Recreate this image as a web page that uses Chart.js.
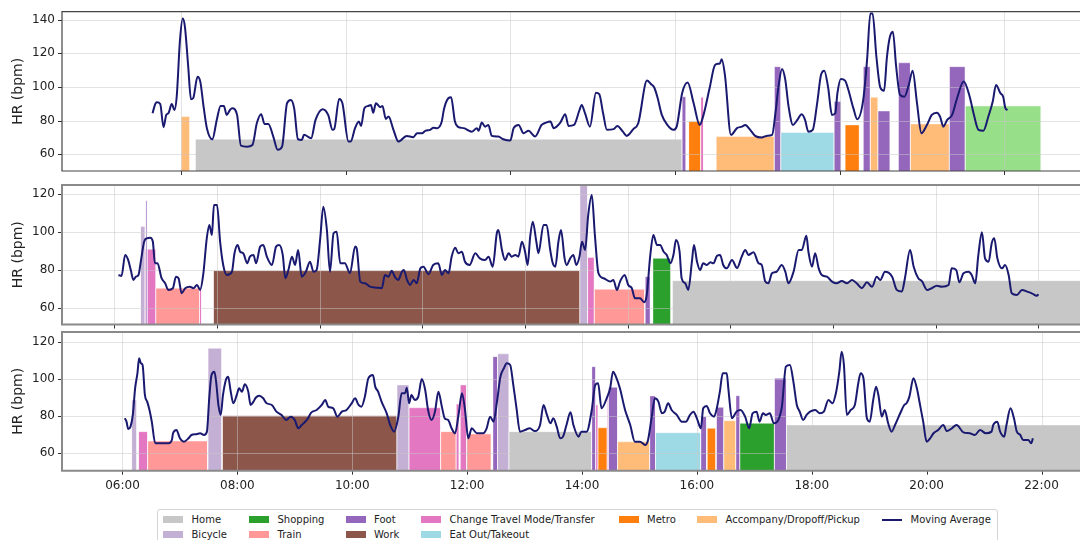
<!DOCTYPE html>
<html><head><meta charset="utf-8">
<script src="https://cdn.jsdelivr.net/npm/chart.js@4.4.1/dist/chart.umd.min.js"></script>
<style>
html,body{margin:0;padding:0;background:#fff;width:1080px;height:540px;overflow:hidden;position:relative;font-family:'DejaVu Sans',sans-serif;}
canvas{position:absolute;left:0;}
#legend{position:absolute;left:157px;top:509px;width:841px;height:42px;border:1px solid #d4d4d4;border-radius:3px;background:#fff;box-sizing:border-box;}
.item{position:absolute;font-size:10px;color:#222;white-space:nowrap;line-height:12px;}
.sw{position:absolute;width:20px;height:7px;}
.ln{position:absolute;width:20px;height:2px;background:#191970;}
</style></head><body>
<canvas id="c1" width="1080" height="180" style="top:0px"></canvas>
<canvas id="c2" width="1080" height="150" style="top:180px"></canvas>
<canvas id="c3" width="1080" height="170" style="top:330px"></canvas>
<div id="legend"></div>
<script>
// ---------- DATA ----------
// Subplot 1 moving average (hours, bpm)
const s1Time = [5.48,5.53,5.56,5.62,5.68,5.73,5.77,5.83,5.88,5.92,5.98,6.03,6.07,6.13,6.18,6.22,6.30,6.35,6.41,6.47,6.57,6.65,6.72,6.78,6.83,6.89,6.93,7.02,7.09,7.20,7.30,7.38,7.46,7.52,7.59,7.68,7.76,7.84,7.93,8.00,8.06,8.13,8.20,8.24,8.37,8.45,8.58,8.68,8.76,8.79,8.88,8.94,9.05,9.09,9.17,9.24,9.28,9.34,9.41,9.46,9.50,9.55,9.63,9.67,9.73,9.78,9.87,9.96,10.11,10.23,10.30,10.39,10.45,10.54,10.60,10.67,10.75,10.79,10.87,10.92,10.99,11.04,11.15,11.30,11.39,11.42,11.48,11.54,11.60,11.66,11.78,11.87,12.00,12.06,12.15,12.24,12.33,12.45,12.57,12.65,12.73,12.79,12.91,13.00,13.06,13.16,13.26,13.30,13.36,13.45,13.56,13.62,13.69,13.76,13.88,13.95,14.05,14.12,14.24,14.33,14.49,14.56,14.62,14.68,14.76,14.86,14.97,15.03,15.13,15.23,15.34,15.45,15.52,15.63,15.73,15.82,15.85,15.91,16.02,16.13,16.22,16.28,16.37,16.46,16.58,16.67,16.77,16.83,16.89,16.95,17.01,17.07,17.15,17.22,17.31,17.37,17.43,17.51,17.59,17.66,17.72,17.79,17.86,17.92,17.96,18.02,18.10,18.16,18.25,18.32,18.43,18.50,18.56,18.60,18.67,18.74,18.81,18.86,18.91,18.97,19.03,19.10,19.18,19.26,19.33,19.41,19.49,19.59,19.68,19.77,19.83,19.89,19.96,20.05,20.14,20.26,20.37,20.44,20.53,20.62,20.71,20.79,20.85,20.93,20.98,21.02,21.06];
const s1HR = [84.4,89.9,90.9,89.9,76.1,83.4,84.4,89.9,86.3,94.2,128,140.8,135.8,112.1,92.7,93.3,106.1,103.2,88.3,75.5,68.9,80.4,88.7,88.7,83.4,86.3,87.4,83.4,65.1,64.5,65.5,78.4,83.8,78.0,78.0,70.5,62.6,64.5,90.3,92.3,87.4,68.9,68.5,71.5,69.5,80.4,86.8,83.4,74.5,74.9,92.9,90.3,67.5,67.5,75.5,79.4,76.8,87.4,88.7,89.3,84.7,90.3,88.0,88.7,81.0,82.4,74.5,67.5,70.9,70.1,72.5,72.5,73.9,74.5,75.8,75.5,79.4,86.8,93.3,93.9,79.4,76.4,75.5,73.4,75.5,74.0,78.8,76.4,77.4,70.9,70.5,68.9,68.1,75.5,77.4,72.5,73.9,70.5,77.4,78.8,79.4,75.5,78.8,83.8,76.8,77.4,86.3,89.3,84.4,76.4,96.6,95.8,84.4,74.5,74.9,76.8,73.4,70.9,74.9,78.4,103.8,101.8,99.8,93.9,83.4,77.4,74.5,76.4,96.3,102.6,90.3,77.4,83.4,99.2,113.1,114.1,116.5,107.1,71.5,75.5,76.4,77.4,74.5,70.9,69.9,70.9,71.5,84.4,101.2,110.7,104.2,88.3,77.4,80.0,83.8,80.4,73.4,74.5,90.3,107.1,109.7,99.8,83.4,84.4,96.3,104.8,103.8,98.2,87.4,80.8,92.3,116.1,143.8,143.8,118.0,99.8,97.8,117.1,129.0,132.9,112.1,95.3,94.2,101.2,109.7,90.3,72.5,77.4,83.4,84.7,82.4,76.4,80.4,83.4,93.3,103.2,94.2,84.4,74.5,74.0,82.4,91.3,101.2,96.3,94.2,87.4,86.3];
// Subplot 1 activity bars: [category, start hour, end hour, bar top bpm]
const s1Bars = [
  ['Accompany/Dropoff/Pickup',6.00,6.16,82.4],
  ['Home',6.26,15.13,68.9],
  ['Foot',15.13,15.20,94.2],
  ['Metro',15.25,15.47,79.4],
  ['Change Travel Mode/Transfer',15.47,15.52,93.9],
  ['Accompany/Dropoff/Pickup',15.75,16.81,70.5],
  ['Foot',16.81,16.93,112.1],
  ['Eat Out/Takeout',16.93,17.90,72.9],
  ['Foot',17.90,18.03,91.3],
  ['Metro',18.10,18.36,77.4],
  ['Foot',18.43,18.56,112.1],
  ['Accompany/Dropoff/Pickup',18.56,18.70,93.9],
  ['Foot',18.70,18.92,85.7],
  ['Foot',19.07,19.29,114.4],
  ['Accompany/Dropoff/Pickup',19.29,20.00,78.0],
  ['Foot',20.00,20.29,112.1],
  ['Other',20.29,21.67,88.7]
];

// Subplot 2
const s2Time = [6.08,6.14,6.21,6.27,6.32,6.37,6.42,6.47,6.51,6.58,6.63,6.70,6.75,6.79,6.84,6.92,6.99,7.05,7.14,7.20,7.25,7.31,7.38,7.47,7.54,7.61,7.67,7.73,7.80,7.85,7.90,7.94,8.00,8.06,8.12,8.19,8.29,8.34,8.40,8.45,8.51,8.59,8.64,8.71,8.76,8.84,8.90,8.97,9.07,9.15,9.21,9.28,9.33,9.39,9.46,9.52,9.58,9.65,9.73,9.81,9.88,9.94,10.01,10.07,10.14,10.20,10.27,10.33,10.40,10.49,10.59,10.69,10.72,10.79,10.88,10.98,11.11,11.21,11.27,11.34,11.40,11.47,11.53,11.60,11.64,11.70,11.76,11.83,11.89,11.96,12.02,12.12,12.21,12.31,12.38,12.44,12.51,12.57,12.64,12.70,12.77,12.83,12.92,13.03,13.12,13.22,13.29,13.37,13.45,13.48,13.55,13.61,13.68,13.74,13.81,13.87,13.94,14.00,14.05,14.10,14.15,14.22,14.26,14.36,14.42,14.49,14.54,14.59,14.65,14.70,14.77,14.81,14.88,14.94,15.00,15.06,15.11,15.17,15.23,15.30,15.36,15.43,15.53,15.66,15.72,15.79,15.85,15.94,16.01,16.08,16.14,16.24,16.32,16.37,16.44,16.50,16.57,16.63,16.70,16.76,16.83,16.89,16.94,17.01,17.05,17.12,17.18,17.25,17.29,17.35,17.41,17.47,17.54,17.61,17.67,17.74,17.80,17.86,17.93,18.03,18.13,18.22,18.29,18.35,18.45,18.55,18.61,18.68,18.74,18.81,18.90,19.00,19.07,19.13,19.23,19.33,19.39,19.48,19.52,19.59,19.65,19.72,19.78,19.88,19.98,20.07,20.17,20.27,20.37,20.46,20.56,20.66,20.76,20.85,20.92,21.01,21.15,21.24,21.34,21.40,21.50,21.57,21.66,21.73,21.83,21.92,22.02,22.12,22.25,22.31,22.40,22.46,22.54,22.64,22.70,22.77,22.83,22.90,22.96,23.03,23.09,23.14,23.20,23.29,23.35,23.42,23.48,23.58,23.68,23.78,23.87,23.97,24.00];
const s2HR = [77.3,76.8,87.9,85.2,79.9,74.7,76.4,77.3,83.5,94.9,96.7,97.0,94.9,83.5,83.5,75.6,72.9,69.4,70.3,76.4,75.6,67.6,70.3,71.1,70.3,72.0,69.4,77.3,96.7,103.8,98.5,114.3,114.3,94.9,82.6,77.3,79.0,88.8,93.2,89.6,88.8,83.5,87.0,87.9,83.5,92.3,93.2,87.0,82.6,92.3,93.2,87.9,75.6,79.9,87.0,82.6,90.5,76.4,79.0,84.3,79.0,79.9,96.7,113.4,101.1,79.0,99.4,100.2,83.5,83.5,78.2,92.3,91.4,73.8,72.9,71.1,70.6,70.3,77.3,76.4,79.5,76.0,74.7,79.0,79.9,74.7,72.0,74.7,72.9,80.8,81.7,77.7,82.6,83.5,77.3,79.9,78.2,87.0,91.7,88.8,89.6,84.3,82.6,88.8,86.1,85.2,87.0,81.7,99.4,101.1,90.5,85.2,88.8,87.0,87.9,87.0,94.9,89.6,82.6,97.6,105.5,94.9,88.8,103.8,103.8,90.5,83.5,81.7,94.9,101.1,86.1,82.6,86.1,87.9,82.6,87.0,94.9,90.5,109.0,119.6,98.5,78.2,75.6,73.8,74.7,69.4,73.8,77.3,72.0,70.3,65.0,65.0,62.9,66.7,87.9,98.5,93.2,93.2,89.6,87.9,83.5,87.9,95.8,89.6,75.6,72.9,69.4,84.3,93.2,84.3,79.9,83.5,82.6,84.0,83.5,87.5,87.9,82.6,80.8,85.2,81.0,87.0,90.5,87.9,89.3,83.5,82.6,73.8,72.9,78.2,79.0,82.6,79.0,72.9,79.0,90.5,90.5,98.1,89.6,81.7,88.8,80.8,77.3,76.4,73.8,72.9,74.1,72.9,74.7,72.9,70.3,73.4,71.1,76.4,74.7,79.0,76.4,69.4,68.5,75.6,90.5,81.7,75.6,74.1,69.4,70.3,71.6,71.1,72.0,80.8,79.9,73.4,78.2,79.0,77.3,72.9,87.9,99.9,86.1,84.3,94.1,96.7,86.1,80.8,82.6,77.3,67.6,66.7,69.4,68.5,67.6,66.3,67.1];
const s2Bars = [
  ['Bicycle',6.51,6.60,102.9],
  ['Change Travel Mode/Transfer',6.60,6.81,90.9],
  ['Foot',6.61,6.64,116.6],
  ['Train',6.81,7.66,70.3],
  ['Change Travel Mode/Transfer',7.66,7.70,70.5],
  ['Work',7.93,15.07,79.6],
  ['Bicycle',15.07,15.22,127],
  ['Change Travel Mode/Transfer',15.22,15.35,86.5],
  ['Train',15.35,16.33,69.7],
  ['Foot',16.34,16.44,76.4],
  ['Shopping',16.49,16.84,86.1],
  ['Home',16.87,25.5,74.3]
];

// Subplot 3
const s3Time = [6.04,6.07,6.10,6.14,6.18,6.22,6.26,6.29,6.32,6.35,6.39,6.43,6.47,6.51,6.57,6.62,6.71,6.80,6.86,6.88,6.94,7.00,7.07,7.15,7.20,7.29,7.35,7.42,7.47,7.51,7.55,7.60,7.63,7.67,7.71,7.75,7.80,7.84,7.88,7.93,7.99,8.03,8.08,8.13,8.19,8.23,8.28,8.32,8.38,8.45,8.51,8.60,8.68,8.77,8.85,8.93,9.00,9.06,9.12,9.21,9.29,9.38,9.47,9.53,9.58,9.67,9.74,9.82,9.90,9.99,10.05,10.11,10.16,10.22,10.28,10.36,10.40,10.45,10.51,10.60,10.66,10.73,10.80,10.86,10.92,10.95,10.99,11.03,11.09,11.15,11.21,11.27,11.32,11.38,11.44,11.50,11.56,11.61,11.67,11.73,11.79,11.85,11.91,11.96,12.02,12.08,12.17,12.28,12.34,12.40,12.46,12.52,12.58,12.64,12.69,12.75,12.80,12.86,12.92,13.01,13.09,13.18,13.27,13.33,13.39,13.45,13.50,13.56,13.62,13.67,13.73,13.80,13.85,13.94,13.99,14.08,14.17,14.23,14.28,14.34,14.43,14.49,14.54,14.59,14.66,14.75,14.84,14.92,15.01,15.10,15.15,15.21,15.27,15.33,15.39,15.44,15.50,15.56,15.65,15.74,15.81,15.88,15.94,16.00,16.07,16.11,16.17,16.23,16.30,16.34,16.40,16.45,16.52,16.55,16.61,16.69,16.76,16.84,16.91,16.97,17.04,17.09,17.15,17.20,17.27,17.34,17.40,17.48,17.55,17.62,17.68,17.74,17.79,17.85,17.91,17.97,18.06,18.14,18.21,18.29,18.36,18.42,18.48,18.52,18.56,18.61,18.68,18.75,18.81,18.85,18.90,18.96,19.01,19.07,19.12,19.16,19.22,19.27,19.33,19.39,19.45,19.54,19.61,19.65,19.70,19.77,19.83,19.88,19.94,20.00,20.06,20.12,20.20,20.29,20.35,20.44,20.52,20.64,20.75,20.84,20.93,21.03,21.13,21.16,21.23,21.28,21.35,21.39,21.46,21.52,21.57,21.63,21.68,21.77,21.82,21.85];
const s3HR = [78.6,76.8,72.8,74.1,80.4,94.8,102.9,111.0,108.3,107.4,91.2,87.6,83.1,76.8,65.1,65.1,65.1,65.1,66.9,70.5,72.3,67.8,66.0,67.8,69.6,70.0,70.5,69.6,71.4,89.4,102.0,103.8,98.4,85.8,80.4,91.2,99.3,101.1,93.9,86.7,91.2,94.8,93.0,97.0,93.0,85.8,87.6,89.7,90.8,89.4,86.7,85.8,82.2,80.4,77.7,79.5,77.7,73.2,75.0,77.7,81.8,83.1,85.8,88.5,84.9,84.0,79.5,82.2,83.1,86.7,89.4,85.8,84.9,90.3,100.2,102.0,95.7,93.0,87.6,81.3,75.0,71.4,79.0,92.1,92.1,95.1,86.7,91.2,88.5,90.3,99.8,93.9,83.1,77.7,82.2,93.0,84.9,78.6,77.7,73.2,70.5,80.4,92.1,84.0,67.8,73.2,70.5,70.5,73.2,79.5,76.8,87.6,101.1,105.6,108.3,107.4,97.5,84.0,71.4,72.3,73.2,71.7,75.0,85.8,80.4,75.9,78.6,74.1,67.8,68.7,75.0,81.8,75.0,68.7,71.4,71.4,83.1,96.6,97.5,84.0,89.4,94.8,103.8,101.1,94.8,83.1,75.0,66.0,66.0,64.2,66.9,78.6,89.4,87.6,81.3,82.2,86.7,83.1,80.4,76.8,76.8,80.4,82.2,78.6,73.2,84.0,85.3,81.3,79.5,83.1,93.0,102.9,102.9,93.9,78.6,82.2,83.1,79.5,73.2,81.3,82.2,76.8,81.3,80.4,81.3,75.9,76.8,84.9,106.5,107.4,98.4,85.8,82.2,77.7,80.4,82.2,83.1,81.3,82.2,88.5,86.7,92.1,103.8,114.6,107.4,80.4,83.1,85.8,97.5,102.9,100.2,78.6,76.8,88.5,95.7,91.2,79.5,83.1,75.9,71.4,75.0,81.3,85.8,86.7,90.3,100.2,94.8,86.7,76.8,66.0,67.8,70.5,72.3,75.0,71.7,73.2,75.0,71.0,70.5,69.6,72.3,70.5,71.4,75.0,76.8,71.4,68.7,75.0,84.0,78.6,71.4,69.6,66.9,66.9,65.1,67.8];
const s3Bars = [
  ['Bicycle',6.16,6.25,88.5],
  ['Change Travel Mode/Transfer',6.28,6.44,71.4],
  ['Train',6.44,7.48,66.3],
  ['Bicycle',7.49,7.73,116.4],
  ['Work',7.74,10.78,80.0],
  ['Bicycle',10.78,10.99,96.6],
  ['Change Travel Mode/Transfer',10.99,11.54,84.3],
  ['Train',11.54,11.81,71.4],
  ['Change Travel Mode/Transfer',11.81,11.86,86.3],
  ['Change Travel Mode/Transfer',11.88,11.99,96.6],
  ['Train',11.99,12.42,70.1],
  ['Foot',12.45,12.53,111.9],
  ['Bicycle',12.53,12.73,113.4],
  ['Home',12.73,14.17,71.4],
  ['Foot',14.17,14.24,106.5],
  ['Change Travel Mode/Transfer',14.24,14.28,85.8],
  ['Metro',14.28,14.44,73.5],
  ['Change Travel Mode/Transfer',14.44,14.46,91.2],
  ['Foot',14.46,14.62,95.3],
  ['Accompany/Dropoff/Pickup',14.62,15.18,65.9],
  ['Foot',15.18,15.28,90.7],
  ['Eat Out/Takeout',15.28,16.07,70.8],
  ['Foot',16.07,16.17,79.5],
  ['Metro',16.18,16.33,73.2],
  ['Foot',16.34,16.47,84.5],
  ['Accompany/Dropoff/Pickup',16.47,16.68,77.3],
  ['Foot',16.68,16.75,90.8],
  ['Shopping',16.75,17.35,75.9],
  ['Foot',17.35,17.56,100.2],
  ['Home',17.56,24.5,75.0]
];

// Ticks
const s1XTicks = [6,9,12,15,18,21];
const s2XTicks = [6,8,10,12,14,16,18,20,22,24];
const s3XTicks = [6,8,10,12,14,16,18,20,22];
const s1YTicks = [60,80,100,120,140];
const s23YTicks = [60,80,100,120];

// Legend entries, grouped by legend column
const legendColumns = [
  ['Home','Bicycle'],
  ['Shopping','Train'],
  ['Foot','Work'],
  ['Change Travel Mode/Transfer','Eat Out/Takeout'],
  ['Metro'],
  ['Accompany/Dropoff/Pickup'],
  ['Moving Average']
];

// ---------- STYLE ----------
const catColors = {
  'Home':'#c7c7c7','Bicycle':'#c5b0d5','Shopping':'#2ca02c','Train':'#ff9896','Foot':'#9467bd',
  'Work':'#8c564b','Change Travel Mode/Transfer':'#e377c2','Eat Out/Takeout':'#9edae5',
  'Metro':'#ff7f0e','Accompany/Dropoff/Pickup':'#ffbb78','Other':'#98df8a'
};
const MA_COLOR = '#191970';
const FONT = "'DejaVu Sans', sans-serif";

function pad2(v){ v = Math.round(v) % 24; return (v<10?'0':'') + v + ':00'; }

function framePlugin(cfg){
  return {
    id: 'frame_' + cfg.id,
    beforeDatasetDraw(chart, args){
      if (!chart.data.datasets[args.index].isMA) return;
      const {ctx, chartArea:a, scales:{x, y}} = chart;
      ctx.save();
      ctx.beginPath(); ctx.rect(a.left, a.top, a.right-a.left, a.bottom-a.top); ctx.clip();
      ctx.strokeStyle = 'rgba(200,200,200,0.5)';
      ctx.lineWidth = 1;
      ctx.beginPath();
      cfg.xTicks.forEach(v => { const p = Math.round(x.getPixelForValue(v)) + 0.5; ctx.moveTo(p, a.top); ctx.lineTo(p, a.bottom); });
      cfg.yTicks.forEach(v => { const p = Math.round(y.getPixelForValue(v)) + 0.5; ctx.moveTo(a.left, p); ctx.lineTo(a.right, p); });
      ctx.stroke();
      ctx.restore();
    },
    afterDraw(chart){
      const {ctx, chartArea:a, scales:{x, y}} = chart;
      ctx.save();
      ctx.strokeStyle = '#333'; ctx.lineWidth = 1;
      ctx.beginPath();
      cfg.xTicks.forEach(v => { const p = Math.round(x.getPixelForValue(v)) + 0.5; if (p < a.right) { ctx.moveTo(p, a.bottom); ctx.lineTo(p, a.bottom + 4); } });
      cfg.yTicks.forEach(v => { const p = Math.round(y.getPixelForValue(v)) + 0.5; ctx.moveTo(a.left, p); ctx.lineTo(a.left - 4, p); });
      ctx.stroke();
      ctx.strokeStyle = cfg.spine; ctx.lineWidth = cfg.spineW;
      ctx.beginPath();
      ctx.moveTo(a.right + 2, a.top); ctx.lineTo(a.left, a.top); ctx.lineTo(a.left, a.bottom); ctx.lineTo(a.right + 2, a.bottom);
      ctx.stroke();
      ctx.restore();
    }
  };
}

function makeChart(cfg){
  const datasets = [{
    type:'line', isMA:true,
    data: cfg.time.map((t,i) => ({x:t, y:cfg.hr[i]})),
    borderColor: MA_COLOR, borderWidth: 2, pointRadius: 0, fill: false,
    cubicInterpolationMode: 'monotone', order: 0
  }];
  cfg.bars.forEach((b, i) => {
    datasets.push({
      type:'line',
      data: [{x:b[1], y:cfg.ymin}, {x:b[1], y:b[3]}, {x:b[2], y:b[3]}, {x:b[2], y:cfg.ymin}],
      backgroundColor: catColors[b[0]], borderColor: 'rgba(255,255,255,0.55)', borderWidth: 0.8,
      pointRadius: 0, fill: 'start', tension: 0, order: cfg.bars.length - i + 1
    });
  });
  return new Chart(document.getElementById(cfg.id), {
    type: 'line',
    data: { datasets },
    options: {
      responsive: false, animation: false, devicePixelRatio: 1,
      layout: { padding: cfg.padding },
      plugins: { legend: {display:false}, tooltip: {enabled:false} },
      scales: {
        x: {
          type: 'linear', min: cfg.xmin, max: cfg.xmax, display: cfg.showX,
          afterBuildTicks: s => { s.ticks = cfg.xTicks.map(v => ({value:v})); },
          afterFit: s => { if (cfg.showX) { s.height = 25; } else { s.height = 0; } s.paddingLeft = 0; s.paddingRight = 0; },
          ticks: { callback: v => pad2(v), font:{size:12, family:FONT}, color:'#222', padding:3, maxRotation:0, autoSkip:false },
          grid: { color:'rgba(0,0,0,0)', drawTicks:true, tickLength:5, tickColor:'rgba(0,0,0,0)' },
          border: { display:false }
        },
        y: {
          type: 'linear', min: cfg.ymin, max: cfg.ymax,
          afterBuildTicks: s => { s.ticks = cfg.yTicks.map(v => ({value:v})); },
          afterFit: s => { s.width = 62; s.paddingTop = 0; s.paddingBottom = 0; },
          ticks: { font:{size:12, family:FONT}, color:'#222', padding:3 },
          grid: { color:'rgba(0,0,0,0)', drawTicks:true, tickLength:4, tickColor:'rgba(0,0,0,0)' },
          border: { display:false },
          title: { display:true, text:'HR (bpm)', font:{size:14, family:FONT}, color:'#222', padding:{top:10, bottom:0} }
        }
      }
    },
    plugins: [framePlugin(cfg)]
  });
}

makeChart({id:'c1', time:s1Time, hr:s1HR, bars:s1Bars, xTicks:s1XTicks, yTicks:s1YTicks,
  xmin:3.83, xmax:22.38, ymin:50, ymax:144.8, showX:false,
  padding:{top:11.7, bottom:9, left:0, right:0}, spine:'#444', spineW:1.2});
makeChart({id:'c2', time:s2Time, hr:s2HR, bars:s2Bars, xTicks:s2XTicks, yTicks:s23YTicks,
  xmin:4.98, xmax:24.81, ymin:51.1, ymax:124.9, showX:false,
  padding:{top:5, bottom:5.5, left:0, right:0}, spine:'#8a8a8a', spineW:2});
makeChart({id:'c3', time:s3Time, hr:s3HR, bars:s3Bars, xTicks:s3XTicks, yTicks:s23YTicks,
  xmin:4.947, xmax:22.67, ymin:50.3, ymax:125.2, showX:true,
  padding:{top:2, bottom:4.3, left:0, right:0}, spine:'#8a8a8a', spineW:2});

// ---------- LEGEND (HTML) ----------
(function(){
  const lg = document.getElementById('legend');
  const colX = [5, 91, 187.5, 263, 460.6, 539, 724];
  const rowY = [9.5, 24.5];
  legendColumns.forEach((col, c) => {
    col.forEach((lab, r) => {
      const x = colX[c], yc = rowY[r];
      const mark = document.createElement('div');
      if (lab === 'Moving Average') {
        mark.className = 'ln'; mark.style.left = x + 'px'; mark.style.top = (yc - 1) + 'px';
      } else {
        mark.className = 'sw'; mark.style.left = x + 'px'; mark.style.top = (yc - 3.5) + 'px';
        mark.style.background = catColors[lab];
      }
      lg.appendChild(mark);
      const t = document.createElement('div');
      t.className = 'item'; t.textContent = lab;
      t.style.left = (x + 28.5) + 'px'; t.style.top = (yc - 6) + 'px';
      lg.appendChild(t);
    });
  });
})();
</script>
</body></html>
